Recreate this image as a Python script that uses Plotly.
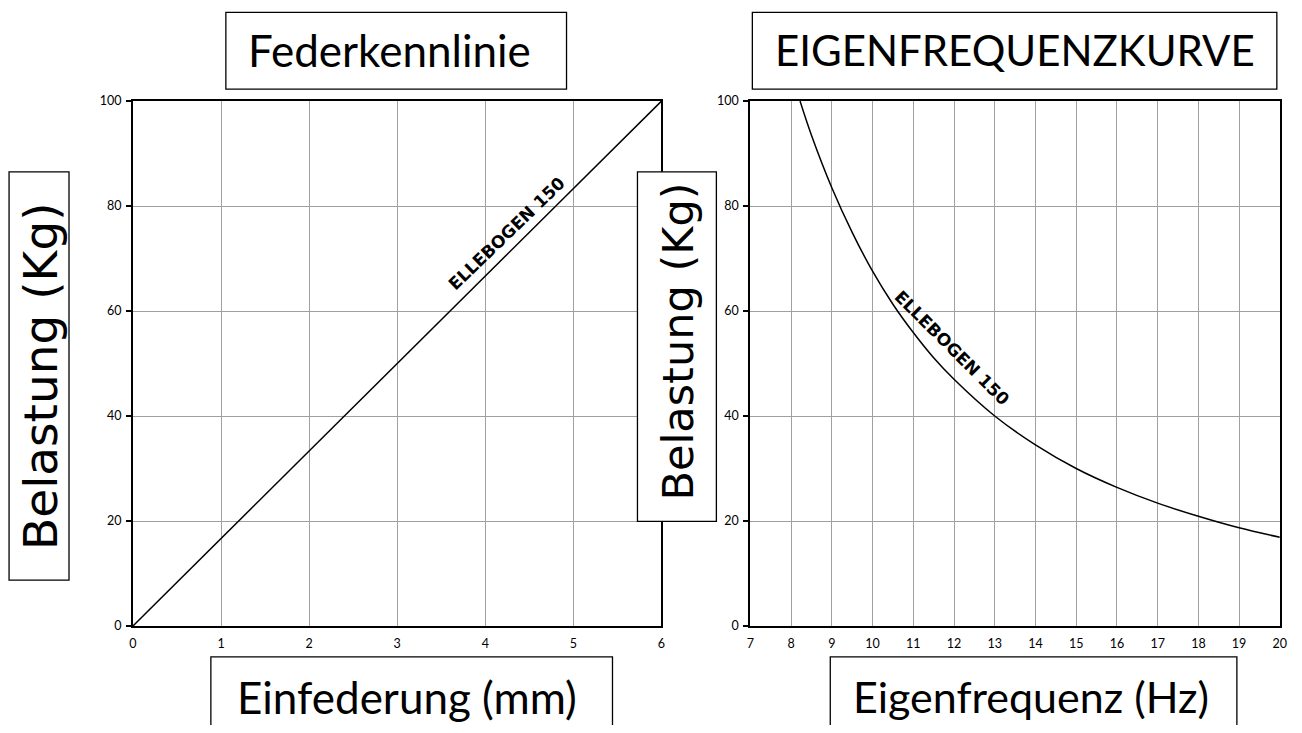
import plotly.graph_objects as go

# figure size inside the page (browser default body margin of 8px)
SCR_W, SCR_H = 1302, 733
OFF = 8
W, H = SCR_W - 2 * OFF, SCR_H - 2 * OFF
# empirical capture correction (screen = a + s * page)
SX, AX = 0.9924, 3.0
SY, AY = 0.983, 5.7

# ---- data ----
defl_mm = [0, 6]
defl_load = [0, 100]

freq_hz = [8.22, 8.5, 9, 9.5, 10, 10.5, 11, 11.5, 12, 13, 14, 15, 16, 17, 18, 19, 20]
freq_load = [100, 93.5, 83.5, 75, 67.6, 61.3, 55.9, 51.1, 47, 40, 34.5, 30, 26.4, 23.4, 20.9, 18.7, 16.9]

left_xticks = [0, 1, 2, 3, 4, 5, 6]
right_xticks = list(range(7, 21))
yticks = [0, 20, 40, 60, 80, 100]

series_label = "ELLEBOGEN 150"
title_left = "Federkennlinie"
title_right = "EIGENFREQUENZKURVE"
xlabel_left = "Einfederung (mm)"
xlabel_right = "Eigenfrequenz (Hz)"
ylabel = "Belastung (Kg)"


def px(t):
    x = (t - AX) / SX
    return (x - OFF) / W


def py(t):
    y = (t - AY) / SY
    return 1 - (y - OFF) / H


fig = go.Figure()
fig.add_trace(go.Scatter(x=defl_mm, y=defl_load, mode="lines",
                         line=dict(color="black", width=1.5), xaxis="x", yaxis="y",
                         showlegend=False, hoverinfo="skip"))
fig.add_trace(go.Scatter(x=freq_hz, y=freq_load, mode="lines",
                         line=dict(color="black", width=1.5, shape="spline"),
                         xaxis="x2", yaxis="y2", showlegend=False, hoverinfo="skip"))

tickfont = dict(family="Lato", size=12.5, color="black")
axcommon = dict(showline=True, linecolor="black", linewidth=2, mirror=True,
                showgrid=True, gridcolor="#a0a0a0", gridwidth=1.4, zeroline=False,
                tickfont=tickfont, fixedrange=True)

fig.update_layout(
    width=W, height=H, margin=dict(l=0, r=0, t=0, b=0),
    paper_bgcolor="white", plot_bgcolor="white", showlegend=False,
    xaxis=dict(domain=[px(132), px(661)], range=[0, 6], tickvals=left_xticks,
               ticks="", ticklen=0, ticklabelstandoff=5, anchor="y", **axcommon),
    yaxis=dict(domain=[py(626), py(99)], range=[0, 100], tickvals=yticks,
               ticks="outside", ticklen=5, tickcolor="black", tickwidth=1.5,
               ticklabelstandoff=2, anchor="x", **axcommon),
    xaxis2=dict(domain=[px(750), px(1280)], range=[7, 20], tickvals=right_xticks,
                ticks="", ticklen=0, ticklabelstandoff=5, anchor="y2", **axcommon),
    yaxis2=dict(domain=[py(626), py(99)], range=[0, 100], tickvals=yticks,
                ticks="outside", ticklen=5, tickcolor="black", tickwidth=1.5,
                ticklabelstandoff=2, anchor="x2", **axcommon),
)

shapes = []
annotations = []


def box(x0, y0, x1, y1):
    shapes.append(dict(type="rect", xref="paper", yref="paper",
                       x0=px(x0), x1=px(x1), y0=py(y1), y1=py(y0),
                       line=dict(color="black", width=1.3), fillcolor="white",
                       layer="above"))


def label(text, cx, cy, size, angle=0, family="Lato"):
    annotations.append(dict(text=text, xref="paper", yref="paper",
                            x=px(cx), y=py(cy), xanchor="center", yanchor="middle",
                            showarrow=False, textangle=angle,
                            font=dict(family=family, size=size, color="black")))


# titles
box(225, 10, 566, 87)
label(title_left, 389, 48, 44)
box(752, 10, 1277, 87)
label(title_right, 1015, 48, 42)
# y labels
box(8, 170, 68, 580)
label(ylabel, 40, 375, 47, -90, "DejaVu Sans")
box(637, 170, 716, 521)
label(ylabel, 678, 340, 43, -90, "DejaVu Sans")
# x labels
box(210, 657, 612, 770)
label(xlabel_left, 406, 697, 44)
box(830, 657, 1237, 770)
label(xlabel_right, 1031, 697, 43)

# series labels on the curves
annotations.append(dict(text=series_label, xref="x", yref="y", x=4.25, y=74.8,
                        showarrow=False, textangle=-44, xanchor="center", yanchor="middle",
                        font=dict(family="DejaVu Sans", size=17, color="black", weight=900)))
annotations.append(dict(text=series_label, xref="x2", yref="y2", x=11.95, y=52.9,
                        showarrow=False, textangle=45, xanchor="center", yanchor="middle",
                        font=dict(family="DejaVu Sans", size=17, color="black", weight=900)))

fig.update_layout(shapes=shapes, annotations=annotations)
fig.write_html("out.html")
